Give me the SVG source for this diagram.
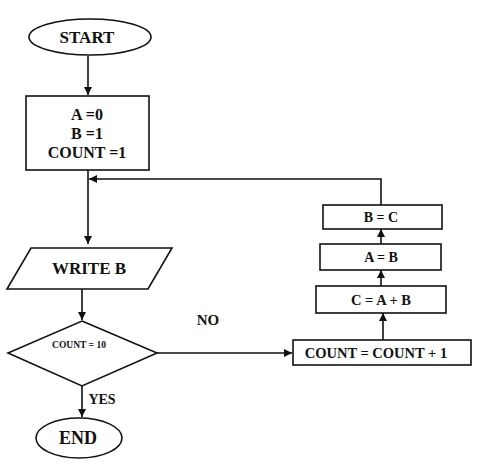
<svg xmlns="http://www.w3.org/2000/svg" width="477" height="473" viewBox="0 0 477 473">
<style>
.s{fill:#fff;stroke:#111;stroke-width:1.6}
.t{font-family:"Liberation Serif","Times New Roman",serif;font-weight:bold;fill:#111;text-anchor:middle}
.c{fill:none;stroke:#111;stroke-width:1.6}
</style>
<defs>
<marker id="ah" viewBox="0 0 10 10" refX="10" refY="5" markerWidth="8" markerHeight="8" markerUnits="userSpaceOnUse" orient="auto"><path d="M0,0 L10,5 L0,10 z" fill="#111"/></marker>
</defs>
<rect width="477" height="473" fill="#fff"/>
<g id="connectors">
<path class="c" d="M88,56 V95" marker-end="url(#ah)"/>
<path class="c" d="M88,170 V244" marker-end="url(#ah)"/>
<path class="c" d="M381,205 V179 H89" marker-end="url(#ah)"/>
<path class="c" d="M82,289 V320" marker-end="url(#ah)"/>
<path class="c" d="M82,386 V417" marker-end="url(#ah)"/>
<path class="c" d="M157,353 H292" marker-end="url(#ah)"/>
<path class="c" d="M383,340 V313" marker-end="url(#ah)"/>
<path class="c" d="M381,286 V270" marker-end="url(#ah)"/>
<path class="c" d="M381,244 V229" marker-end="url(#ah)"/>
</g>
<g id="start"><ellipse class="s" cx="90" cy="37" rx="61" ry="18"/><text class="t" x="87" y="43" font-size="17">START</text></g>
<g id="init"><rect class="s" x="26" y="96" width="123" height="74"/>
<text class="t" x="87" y="120" font-size="16">A =0</text>
<text class="t" x="87" y="139" font-size="16">B =1</text>
<text class="t" x="87" y="158" font-size="16">COUNT =1</text></g>
<g id="write"><polygon class="s" points="31,248 172,248 148,289 7,289"/><text class="t" x="89" y="274" font-size="17">WRITE B</text></g>
<g id="decision"><polygon class="s" points="82,321 157,353 82,386 8,353"/><text class="t" x="79" y="348" font-size="9.5">COUNT = 10</text></g>
<text class="t" x="102" y="404" font-size="14">YES</text>
<text class="t" x="208" y="325" font-size="15">NO</text>
<g id="end"><ellipse class="s" cx="79" cy="438" rx="43" ry="20"/><text class="t" x="78" y="444" font-size="18">END</text></g>
<g id="count"><rect class="s" x="293" y="340" width="178" height="25"/><text class="t" x="376" y="358" font-size="14.5">COUNT = COUNT + 1</text></g>
<g id="cab"><rect class="s" x="316" y="286" width="130" height="27"/><text class="t" x="381" y="305" font-size="14.5">C = A + B</text></g>
<g id="ab"><rect class="s" x="320" y="244" width="121" height="26"/><text class="t" x="381" y="262" font-size="14">A = B</text></g>
<g id="bc"><rect class="s" x="323" y="205" width="119" height="24"/><text class="t" x="381" y="222" font-size="14">B = C</text></g>
</svg>
